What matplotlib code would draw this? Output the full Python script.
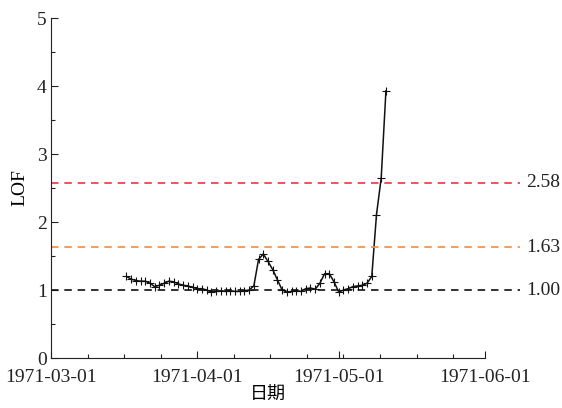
import numpy as np
import pandas as pd
import matplotlib
matplotlib.use('Agg')
import matplotlib.pyplot as plt
import matplotlib.dates as mdates
from matplotlib.ticker import AutoMinorLocator, MultipleLocator
import matplotlib.transforms as mtransforms

plt.rcParams['font.family'] = ['Liberation Serif', 'Noto Sans CJK SC']

# daily LOF values, 1971-03-17 .. 1971-05-11
dates = pd.date_range('1971-03-17', '1971-05-11', freq='D')
lof = [1.20, 1.16, 1.14, 1.13, 1.13, 1.10, 1.05, 1.07, 1.10, 1.13,
       1.12, 1.09, 1.07, 1.06, 1.04, 1.02, 1.02, 1.00, 0.97, 0.98,
       0.99, 0.98, 0.99, 0.98, 0.98, 0.99, 1.00, 1.06, 1.45, 1.53,
       1.42, 1.30, 1.15, 1.00, 0.97, 0.98, 0.99, 0.98, 1.02, 1.03,
       1.01, 1.10, 1.24, 1.24, 1.12, 0.97, 1.00, 1.02, 1.05, 1.06,
       1.07, 1.10, 1.20, 2.11, 2.65, 3.93]

thresholds = [2.58, 1.63, 1.00]
threshold_labels = ['2.58', '1.63', '1.00']
threshold_colors = ['#ee3344', '#f58a40', '#111111']

fig = plt.figure(figsize=(5.62, 4.08), dpi=100)
ax = fig.add_axes([0.0907, 0.1225, 0.7723, 0.8333])

ax.plot(dates, lof, color='#111111', lw=1.1, marker='+', ms=6, mew=0.8)

trans = mtransforms.blended_transform_factory(ax.transAxes, ax.transData)
for v, lab, c in zip(thresholds, threshold_labels, threshold_colors):
    ax.axhline(v, xmin=0, xmax=1.08, color=c, lw=1.2, ls=(0, (4.5, 3.5)), clip_on=False)
    ax.text(1.095, v, lab, transform=trans, va='center', ha='left', fontsize=14, color='#222222')

ax.set_xlim(pd.Timestamp('1971-03-01'), pd.Timestamp('1971-06-01'))
ax.set_ylim(0, 5)
ax.xaxis.set_major_locator(mdates.MonthLocator())
ax.xaxis.set_major_formatter(mdates.DateFormatter('%Y-%m-%d'))
ax.xaxis.set_minor_locator(AutoMinorLocator(4))
ax.yaxis.set_major_locator(MultipleLocator(1))
ax.yaxis.set_minor_locator(MultipleLocator(0.5))

ax.spines['top'].set_visible(False)
ax.spines['right'].set_visible(False)
ax.spines['left'].set_color('#222222')
ax.spines['bottom'].set_color('#222222')
ax.tick_params(which='both', direction='in', colors='#222222', labelsize=14)
ax.tick_params(which='major', length=5, width=0.8)
ax.tick_params(which='minor', length=3, width=0.8)
ax.tick_params(axis='x', pad=8)
ax.tick_params(axis='y', pad=3)

ax.set_ylabel('LOF', fontsize=14, labelpad=6)
ax.set_xlabel('日期', fontsize=13, labelpad=0, family=['Noto Sans CJK SC', 'DejaVu Sans'])

fig.savefig('out.png', dpi=100)
